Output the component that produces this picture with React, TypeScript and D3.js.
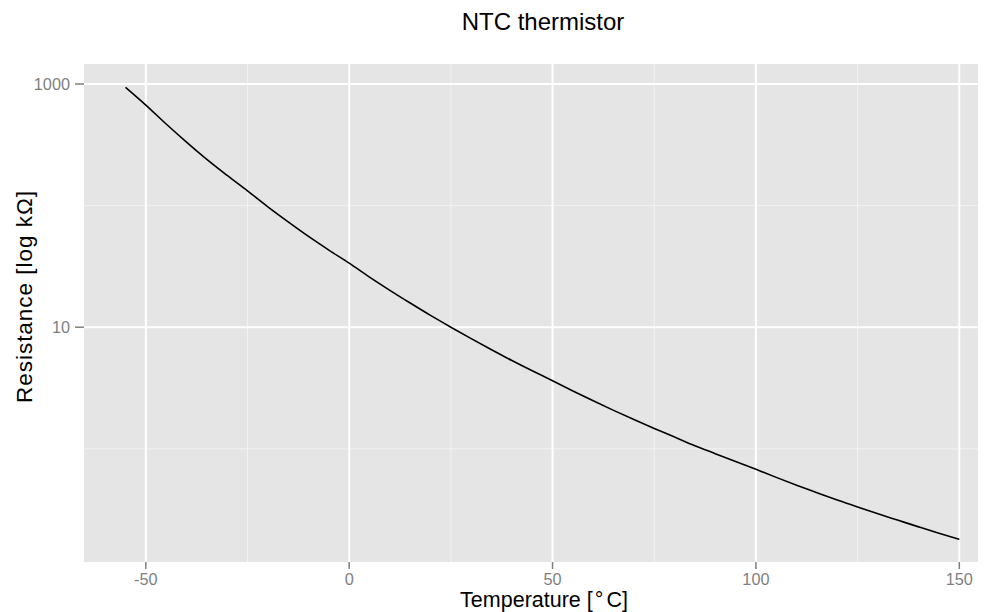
import React from "react";
import * as d3 from "d3";

// Temperature (°C) and resistance (kΩ)
const temperatures: number[] = [
  -55, -50, -45, -40, -35, -30, -25, -20, -15, -10, -5, 0, 5, 10, 15, 20, 25, 30, 35, 40, 45, 50,
  55, 60, 65, 70, 75, 80, 85, 90, 95, 100, 105, 110, 115, 120, 125, 130, 135, 140, 145, 150,
];
const resistances: number[] = [
  940, 671, 469, 333, 240, 177, 132, 97.7, 73.5, 55.8, 43.1, 33.6, 25.8, 20.1, 15.8, 12.5, 10.0,
  8.05, 6.52, 5.32, 4.38, 3.63, 2.99, 2.48, 2.07, 1.74, 1.47, 1.25, 1.06, 0.912, 0.785, 0.678,
  0.582, 0.502, 0.436, 0.379, 0.332, 0.292, 0.258, 0.228, 0.202, 0.18,
];
const xMajorTicks: number[] = [-50, 0, 50, 100, 150];
const xMinorTicks: number[] = [-25, 25, 75, 125];
const yMajorTicks: number[] = [1000, 10];
const yMinorTicks: number[] = [100, 1];
const yTickLabels: string[] = ["1000", "10"];
const titleText = "NTC thermistor";
const yTitle = "Resistance [log kΩ]";

const W = 992;
const H = 612;
const panel = { left: 84, right: 978, top: 64, bottom: 562 };
const font = "'Liberation Sans', Arial, Helvetica, sans-serif";

export default function App() {
  const x = d3.scaleLinear().domain([-65.2, 154.6]).range([panel.left, panel.right]);
  const yMin = Math.pow(10, -0.931);
  const yMax = Math.pow(10, 3.1645);
  const y = d3.scaleLog().domain([yMin, yMax]).range([panel.bottom, panel.top]);

  const data = temperatures.map((t, i) => ({ t, r: resistances[i] }));
  const line = d3
    .line<{ t: number; r: number }>()
    .x((d) => x(d.t))
    .y((d) => y(d.r))
    .curve(d3.curveMonotoneX);

  return (
    <svg
      width={W}
      height={H}
      style={{ position: "absolute", left: 0, top: 0, background: "#fff" }}
      fontFamily={font}
    >
      <rect x={0} y={0} width={W} height={H} fill="#fff" />
      <rect
        x={panel.left}
        y={panel.top}
        width={panel.right - panel.left}
        height={panel.bottom - panel.top}
        fill="#E5E5E5"
      />
      {xMinorTicks.map((t) => (
        <line key={"xm" + t} x1={x(t)} x2={x(t)} y1={panel.top} y2={panel.bottom} stroke="#F2F2F2" strokeWidth={1} />
      ))}
      {yMinorTicks.map((t) => (
        <line key={"ym" + t} x1={panel.left} x2={panel.right} y1={y(t)} y2={y(t)} stroke="#F2F2F2" strokeWidth={1} />
      ))}
      {xMajorTicks.map((t) => (
        <line key={"xM" + t} x1={x(t)} x2={x(t)} y1={panel.top} y2={panel.bottom} stroke="#fff" strokeWidth={2} />
      ))}
      {yMajorTicks.map((t) => (
        <line key={"yM" + t} x1={panel.left} x2={panel.right} y1={y(t)} y2={y(t)} stroke="#fff" strokeWidth={2} />
      ))}
      <path d={line(data) || ""} fill="none" stroke="#000" strokeWidth={1.6} />

      {xMajorTicks.map((t) => (
        <g key={"xt" + t}>
          <line x1={x(t)} x2={x(t)} y1={panel.bottom} y2={panel.bottom + 7} stroke="#7F7F7F" strokeWidth={1.5} />
          <text x={x(t)} y={585} textAnchor="middle" fontSize={16.3} fill="#7F7F7F">
            {String(t)}
          </text>
        </g>
      ))}
      {yMajorTicks.map((t, i) => (
        <g key={"yt" + t}>
          <line x1={panel.left - 9} x2={panel.left} y1={y(t)} y2={y(t)} stroke="#7F7F7F" strokeWidth={1.5} />
          <text x={70} y={y(t)} dy="0.36em" textAnchor="end" fontSize={16.3} fill="#7F7F7F">
            {yTickLabels[i]}
          </text>
        </g>
      ))}

      <text x={543} y={29.5} textAnchor="middle" fontSize={24} fill="#000">
        {titleText}
      </text>
      <text x={544} y={606.5} textAnchor="middle" fontSize={21.5} fill="#000">
        Temperature [<tspan dx={2}>°</tspan>
        <tspan dx={3}>C]</tspan>
      </text>
      <text
        transform={`translate(31.5,297) rotate(-90)`}
        textAnchor="middle"
        fontSize={22.5}
        fill="#000"
        textLength={212}
        lengthAdjust="spacing"
      >
        {yTitle}
      </text>
    </svg>
  );
}
